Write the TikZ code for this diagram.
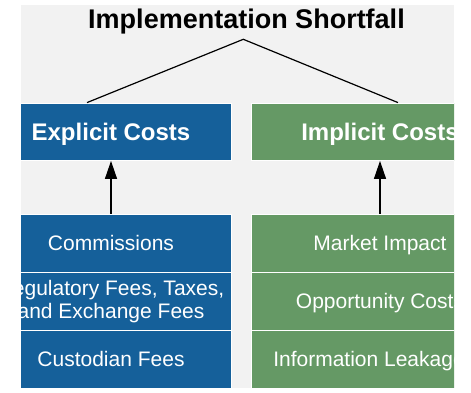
\documentclass[tikz,border=0pt]{standalone}
\usepackage{fontspec}
\setmainfont{Liberation Sans}
\usetikzlibrary{arrows.meta}
\definecolor{bluebox}{HTML}{15609A}
\definecolor{greenbox}{HTML}{659965}
\definecolor{bggray}{HTML}{F2F2F2}
\begin{document}
\begin{tikzpicture}[x=1pt,y=-1pt,
  catbox/.style={draw=white, line width=0.8pt, minimum height=57.5pt, inner sep=0pt,
    text=white, font=\fontsize{24}{27}\selectfont\bfseries, text height=17pt, text depth=0pt},
  rowbox/.style={draw=white, line width=0.8pt, minimum height=58pt, inner sep=0pt,
    text=white, font=\fontsize{21}{23}\selectfont, text height=15pt, text depth=0pt},
  tworow/.style={draw=white, line width=0.8pt, minimum height=58pt, inner sep=0pt,
    text=white, font=\fontsize{21}{23}\selectfont, align=center},
  link/.style={line width=1.2pt, black},
  uparrow/.style={line width=1.2pt, black, -{Triangle[length=18pt,width=12pt]}}]
\useasboundingbox[fill=white] (0,0) rectangle (471,393);
\fill[bggray] (21,5) rectangle (454,388);
\node[anchor=base, font=\fontsize{27}{30}\selectfont\bfseries] (title) at (246.5,28.3) {Implementation Shortfall};
\coordinate (apex) at (243.3,39.3);
\begin{scope}
\clip (21,5) rectangle (454,388);
\node[catbox, fill=bluebox, minimum width=240pt] (expl) at (111,131.75) {Explicit Costs};
\node[catbox, fill=greenbox, minimum width=258pt] (impl) at (380,131.75) {Implicit Costs};
\node[rowbox, fill=bluebox, minimum width=240pt] (c1) at (111,243) {Commissions};
\node[tworow, fill=bluebox, minimum width=240pt] (c2) at (111,301) {\rule{0pt}{17pt}Regulatory Fees, Taxes,\\and Exchange Fees};
\node[rowbox, fill=bluebox, minimum width=240pt] (c3) at (111,359) {Custodian Fees};
\node[rowbox, fill=greenbox, minimum width=258pt] (m1) at (380,243) {Market Impact};
\node[rowbox, fill=greenbox, minimum width=258pt] (m2) at (380,301) {Opportunity Costs};
\node[rowbox, fill=greenbox, minimum width=258pt] (m3) at (380,359) {\hspace*{-22pt}Information Leakage};
\end{scope}
\draw[link] ([xshift=-24pt]expl.north) -- (apex) -- ([xshift=18pt]impl.north);
\draw[uparrow] (c1.north) -- (expl.south);
\draw[uparrow] (m1.north) -- (impl.south);
\end{tikzpicture}
\end{document}
